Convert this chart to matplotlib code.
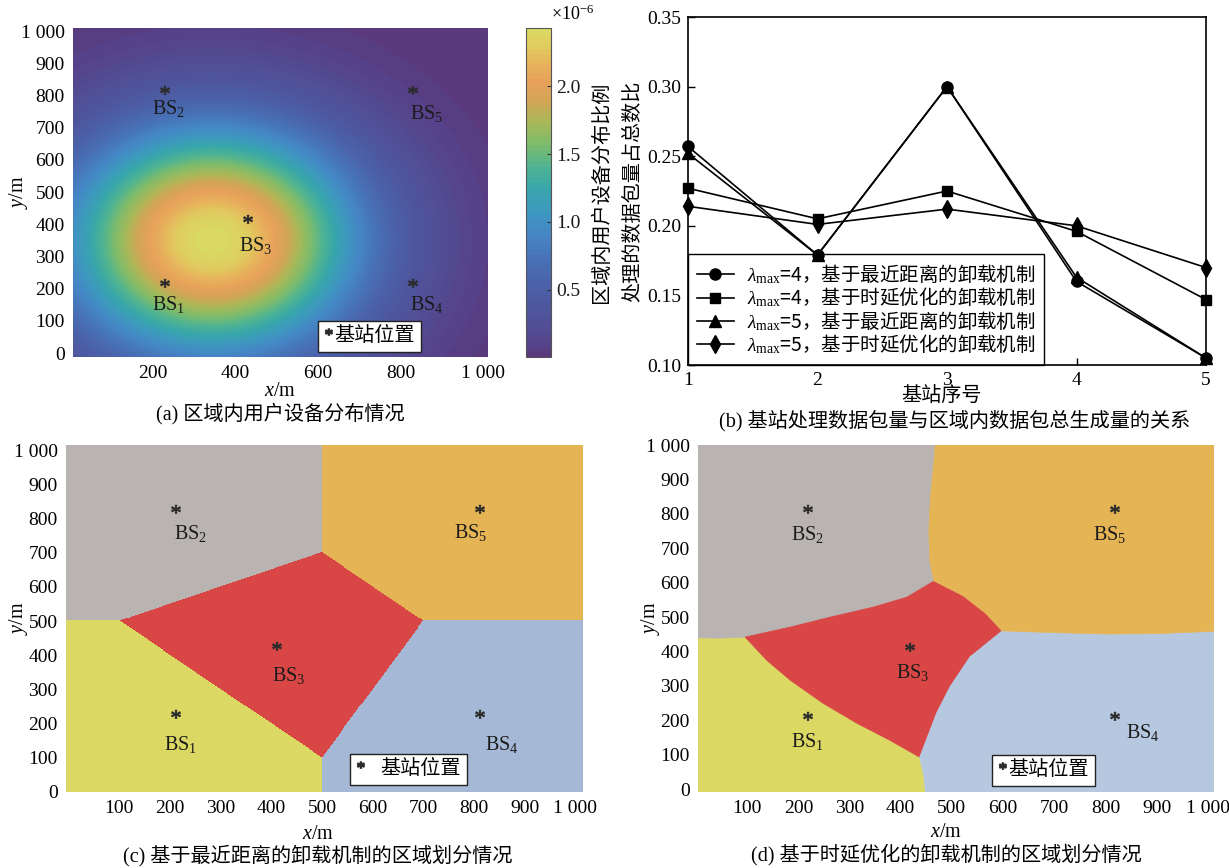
import numpy as np
import matplotlib
matplotlib.use('Agg')
import matplotlib.pyplot as plt
from matplotlib.colors import LinearSegmentedColormap, ListedColormap
from matplotlib.lines import Line2D
from matplotlib.patches import Polygon
from matplotlib.textpath import TextPath
from matplotlib.font_manager import FontProperties
from matplotlib.path import Path

plt.rcParams['font.family'] = ['Liberation Serif', 'Noto Sans CJK SC']
plt.rcParams['mathtext.fontset'] = 'custom'
plt.rcParams['mathtext.rm'] = 'Liberation Serif'
plt.rcParams['mathtext.it'] = 'Liberation Serif:italic'
plt.rcParams['font.size'] = 14

# ---------------- data ----------------
bs_labels = ['BS$_1$', 'BS$_2$', 'BS$_3$', 'BS$_4$', 'BS$_5$']
bs_x = [200, 200, 400, 800, 800]
bs_y = [200, 800, 400, 200, 800]

# (a) user-equipment distribution (values in units of 1e-6)
density_center_x = 345
density_center_y = 350
density_sigma = 255
density_peak = 2.43

# (b) share of packets handled by each base station
station_index = [1, 2, 3, 4, 5]
share_l4_nearest = [0.257, 0.179, 0.300, 0.160, 0.105]
share_l4_delay = [0.227, 0.205, 0.225, 0.196, 0.147]
share_l5_nearest = [0.252, 0.179, 0.300, 0.163, 0.105]
share_l5_delay = [0.214, 0.201, 0.212, 0.200, 0.170]
series_labels = [r'$\lambda_{\mathrm{max}}$=4，基于最近距离的卸载机制',
                 r'$\lambda_{\mathrm{max}}$=4，基于时延优化的卸载机制',
                 r'$\lambda_{\mathrm{max}}$=5，基于最近距离的卸载机制',
                 r'$\lambda_{\mathrm{max}}$=5，基于时延优化的卸载机制']

region_labels = ['区域1', '区域2', '区域3', '区域4', '区域5']
region_colors_c = ['#dcd864', '#b9b4b2', '#d94646', '#a5b9d6', '#e5b455']
region_colors_d = ['#dcd864', '#b9b4b2', '#d94646', '#b6c8e0', '#e5b455']

# (d) region boundaries of the delay-optimised partition
J1 = (96, 442)
J2 = (465, 605)
J3 = (598, 460)
J4 = (437, 93)
b13 = [J1, (138, 375), (184, 317), (248, 250), (314, 192), (379, 142), J4]
b23 = [J1, (184, 471), (262, 500), (346, 529), (412, 558), J2]
b35 = [J2, (522, 562), (566, 511), J3]
b34 = [J3, (535, 384), (496, 297), (470, 221), J4]
b14 = [J4, (445, 40), (452, -60)]
b12 = [(-60, 441), (50, 439), J1]
b25 = [(470, 1060), (465, 950), (458, 850), (455, 750), (457, 660), J2]
b45 = [(1060, 460), (1000, 458), (900, 452), (800, 451), (700, 455), J3]

xticks_ac = [200, 400, 600, 800, 1000]
xticklabels_a = ['200', '400', '600', '800', '1 000']
xticks_cd = [100, 200, 300, 400, 500, 600, 700, 800, 900, 1000]
xticklabels_cd = ['100', '200', '300', '400', '500', '600', '700', '800', '900', '1 000']
yticks_map = [0, 100, 200, 300, 400, 500, 600, 700, 800, 900, 1000]
yticklabels_map = ['0', '100', '200', '300', '400', '500', '600', '700', '800', '900', '1 000']

# ---------------- helpers ----------------
W, H = 1229, 868
fig = plt.figure(figsize=(W / 100, H / 100), dpi=100)


def px_axes(l, t, r, b):
    return fig.add_axes([l / W, 1 - b / H, (r - l) / W, (b - t) / H])


# asterisk marker from the serif glyph
_tp = TextPath((0, 0), '*', prop=FontProperties(family='Liberation Serif'), size=10)
_v = _tp.vertices.copy()
_v -= (_v.min(axis=0) + _v.max(axis=0)) / 2
star_marker = Path(_v, _tp.codes)
star_color = '#2b2b2b'
cjk_prop = FontProperties(family=['Noto Sans CJK SC'], size=14)

parula_like = LinearSegmentedColormap.from_list('parula_like', [
    (0.00, '#5a3a7c'), (0.03, '#56428a'), (0.08, '#524d95'), (0.15, '#4e579e'),
    (0.22, '#4b62aa'), (0.30, '#4873b8'), (0.37, '#4586c6'), (0.44, '#3e98c0'),
    (0.51, '#38a6ab'), (0.58, '#4fb492'), (0.65, '#7fbc6b'), (0.72, '#aab858'),
    (0.78, '#d2a656'), (0.84, '#e7a15a'), (0.90, '#e8b35c'), (0.95, '#e0cc60'),
    (1.00, '#dad963')], N=64)


def style_map_axes(ax, xticks, xlabels, xlim, ylim):
    ax.set_xlim(*xlim)
    ax.set_ylim(*ylim)
    ax.set_xticks(xticks)
    ax.set_xticklabels(xlabels)
    ax.set_yticks(yticks_map)
    ax.set_yticklabels(yticklabels_map)
    for s in ax.spines.values():
        s.set_visible(False)
    ax.tick_params(length=0, pad=6, labelsize=14)


def draw_stations(ax, dx, dy, label_dx, label_dy):
    ax.plot(np.array(bs_x) + dx, np.array(bs_y) + dy, ls='none', marker=star_marker,
            ms=10.5, color=star_color, mec=star_color, mew=0.6, zorder=5)
    for i, name in enumerate(bs_labels):
        ax.text(bs_x[i] + label_dx[i], bs_y[i] + label_dy[i], name, ha='left', va='center',
                fontsize=14.5, color='#1a1a1a', zorder=5)


def bs_legend(ax, x0, y0, gap):
    h = Line2D([], [], ls='none', marker=star_marker, ms=8, color=star_color)
    leg = ax.legend([h], ['基站位置'], loc='lower left', bbox_to_anchor=(x0, y0),
                    borderaxespad=0, handlelength=0.4, handletextpad=gap, borderpad=0.3,
                    fancybox=False, framealpha=1, edgecolor='#222222', fontsize=14.5)
    leg.get_frame().set_linewidth(1.0)
    return leg


def region_legend(ax, colors, x0, y0):
    hs = [Line2D([], [], ls='none', marker='o', ms=6, color=c) for c in colors]
    leg = ax.legend(hs, region_labels, loc='upper left', bbox_to_anchor=(x0, y0),
                    borderaxespad=0, handlelength=1.2, handletextpad=0.5, borderpad=0.3,
                    labelspacing=0.12, fancybox=False, framealpha=1, edgecolor='#222222',
                    fontsize=14.5)
    leg.get_frame().set_linewidth(1.0)
    return leg


# ---------------- (a) ----------------
axa = px_axes(73, 28, 488, 357)
xa_lim, ya_lim = (7, 1012), (-12, 1010)
gx = np.linspace(*xa_lim, 600)
gy = np.linspace(*ya_lim, 600)
GX, GY = np.meshgrid(gx, gy)
Z = density_peak * np.exp(-((GX - density_center_x) ** 2 + (GY - density_center_y) ** 2)
                          / (2 * density_sigma ** 2))
im = axa.imshow(Z, extent=(*xa_lim, *ya_lim), origin='lower', cmap=parula_like,
                aspect='auto', interpolation='bilinear')
style_map_axes(axa, xticks_ac, xticklabels_a, xa_lim, ya_lim)
draw_stations(axa, 28, 8, [-2, -2, 8, 22, 22], [-48, -40, -65, -48, -55])
bs_legend(axa, 0.59, 0.015, 0.1)
axa.set_xlabel('$x$/m', fontsize=14.5)
axa.set_ylabel('$y$/m', fontsize=14.5)
axa.xaxis.set_label_coords(0.5, -0.075)
axa.yaxis.set_label_coords(-0.104, 0.5)

cax = px_axes(526, 28, 551, 357)
cb = fig.colorbar(im, cax=cax)
cb.set_ticks([0.5, 1.0, 1.5, 2.0])
cb.set_ticklabels(['0.5', '1.0', '1.5', '2.0'])
cb.outline.set_linewidth(0.8)
cb.outline.set_edgecolor('#555555')
cax.tick_params(direction='in', length=3, width=0.8, labelsize=14, pad=4, colors='#333333')
cax.tick_params(labelcolor='#1a1a1a')
cax.set_ylabel('区域内用户设备分布比例', fontsize=14.5)
cax.yaxis.set_label_coords(2.68, 0.5)
cax.text(1.0, 1.012, '×10$^{-6}$', transform=cax.transAxes, ha='left', va='bottom', fontsize=13)

# ---------------- (b) ----------------
axb = px_axes(688, 17, 1206, 365)
markers = ['o', 's', '^', 'd']
msizes = [8, 7, 8, 9]
for vals, m, ms, lab in zip([share_l4_nearest, share_l4_delay, share_l5_nearest, share_l5_delay],
                            markers, msizes, series_labels):
    axb.plot(station_index, vals, color='black', lw=1.2, marker=m, ms=ms,
             mfc='black', mec='black', label=lab, clip_on=False, zorder=3)
axb.set_xlim(1, 5)
axb.set_ylim(0.10, 0.35)
axb.set_xticks(station_index)
axb.set_yticks([0.10, 0.15, 0.20, 0.25, 0.30, 0.35])
axb.set_yticklabels(['0.10', '0.15', '0.20', '0.25', '0.30', '0.35'])
axb.tick_params(direction='in', length=5, width=1, labelsize=14, pad=5)
for s in axb.spines.values():
    s.set_linewidth(1.2)
legb = axb.legend(loc='lower left', bbox_to_anchor=(0, 0), borderaxespad=0, fancybox=False,
                  framealpha=1, edgecolor='black', prop=cjk_prop, handlelength=1.9,
                  handletextpad=0.7, labelspacing=0.0, borderpad=0.45)
legb.get_frame().set_linewidth(1.0)
legb.set_zorder(2)
axb.set_xlabel('基站序号', fontsize=14.5)
axb.set_ylabel('处理的数据包量占总数比', fontsize=14.5)
axb.xaxis.set_label_coords(0.49, -0.063)
axb.yaxis.set_label_coords(-0.087, 0.5)

# ---------------- (c) ----------------
axc = px_axes(66, 445, 583, 792)
xc_lim, yc_lim = (-5, 1015), (0, 1015)
cx = np.linspace(*xc_lim, 700)
cy = np.linspace(*yc_lim, 700)
CX, CY = np.meshgrid(cx, cy)
dist = np.stack([(CX - bx) ** 2 + (CY - by) ** 2 for bx, by in zip(bs_x, bs_y)])
nearest = np.argmin(dist, axis=0)
axc.imshow(nearest, extent=(*xc_lim, *yc_lim), origin='lower',
           cmap=ListedColormap(region_colors_c), vmin=-0.5, vmax=4.5,
           aspect='auto', interpolation='nearest')
style_map_axes(axc, xticks_cd, xticklabels_cd, xc_lim, yc_lim)
draw_stations(axc, 10, 18, [-12, 8, 2, 22, -40], [-60, -45, -60, -60, -40])
region_legend(axc, region_colors_c, 0.545, 0.977)
bs_legend(axc, 0.549, 0.02, 0.8)
axc.set_xlabel('$x$/m', fontsize=14.5)
axc.set_ylabel('$y$/m', fontsize=14.5)
axc.xaxis.set_label_coords(0.487, -0.095)
axc.yaxis.set_label_coords(-0.07, 0.5)

# ---------------- (d) ----------------
axd = px_axes(698, 445, 1214, 792)
xd_lim, yd_lim = (4, 1012), (-8, 1000)
R1 = [(-60, -60)] + b14[::-1] + b13[::-1][1:] + b12[::-1][1:]
R2 = b12 + b23[1:] + b25[::-1][1:] + [(-60, 1060)]
R3 = b23 + b35[1:] + b34[1:] + b13[::-1][1:-1]
R4 = b34 + b14[1:] + [(1060, -60)] + b45[:-1]
R5 = b25 + b35[1:] + b45[::-1][1:] + [(1060, 1060)]
for poly, col in zip([R1, R2, R3, R4, R5], region_colors_d):
    axd.add_patch(Polygon(poly, closed=True, facecolor=col, edgecolor=col, lw=0.5))
style_map_axes(axd, xticks_cd, xticklabels_cd, xd_lim, yd_lim)
draw_stations(axd, 17, 5, [-15, -15, -10, 40, -25], [-60, -60, -60, -35, -60])
region_legend(axd, region_colors_d, 0.486, 0.974)
bs_legend(axd, 0.57, 0.017, 0.1)
axd.set_xlabel('$x$/m', fontsize=14.5)
axd.set_ylabel('$y$/m', fontsize=14.5)
axd.xaxis.set_label_coords(0.48, -0.089)
axd.yaxis.set_label_coords(-0.07, 0.5)

# ---------------- captions ----------------
fig.text(280 / W, 1 - 414 / H, '(a) 区域内用户设备分布情况', ha='center', va='center', fontsize=14.5)
fig.text(955 / W, 1 - 421 / H, '(b) 基站处理数据包量与区域内数据包总生成量的关系', ha='center',
         va='center', fontsize=14.5)
fig.text(318 / W, 1 - 856 / H, '(c) 基于最近距离的卸载机制的区域划分情况', ha='center', va='center',
         fontsize=14.5)
fig.text(946 / W, 1 - 855 / H, '(d) 基于时延优化的卸载机制的区域划分情况', ha='center', va='center',
         fontsize=14.5)

fig.savefig('out.png', dpi=100)
